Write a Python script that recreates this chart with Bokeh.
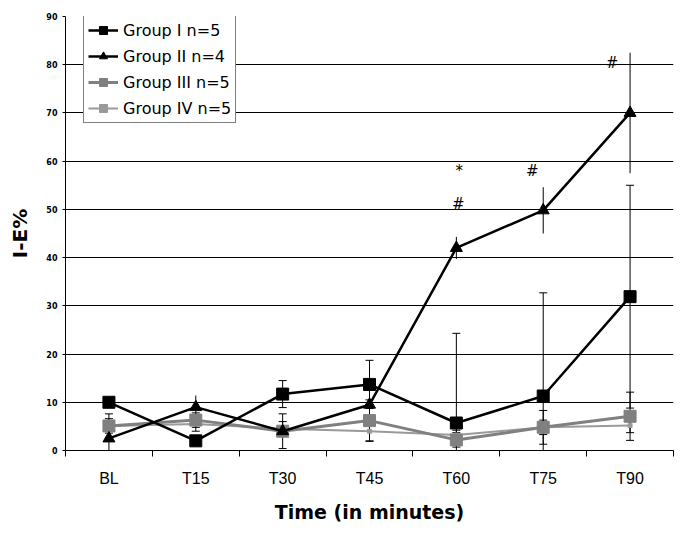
from bokeh.plotting import figure
from bokeh.models import (ColumnDataSource, Range1d, FixedTicker, Whisker, TeeHead,
                          Legend, LegendItem)
from bokeh.core.properties import value
from bokeh.embed import file_html
from bokeh.resources import INLINE

# ---- data ----
categories = ["BL", "T15", "T30", "T45", "T60", "T75", "T90"]
g1 = [10.0, 2.0, 11.7, 13.7, 5.7, 11.3, 31.9]
g1_err = [1.0, 1.0, 2.8, 5.0, 18.6, 21.4, 23.1]
g2 = [2.5, 9.0, 4.0, 9.5, 42.0, 49.8, 70.0]
g2_err = [2.5, 2.4, 1.0, 1.5, 2.3, 4.8, 12.5]
g3 = [5.1, 6.3, 4.0, 6.2, 2.2, 4.8, 7.1]
g3_err = [2.5, 1.5, 3.6, 4.3, 1.5, 3.5, 5.0]
g4 = [5.1, 5.5, 4.5, 4.0, 3.2, 4.8, 5.2]
g4_err = [1.5, 1.5, 1.5, 2.0, 1.0, 1.5, 1.5]
y_ticks = [0, 10, 20, 30, 40, 50, 60, 70, 80, 90]
labels = ["Group I n=5", "Group II n=4", "Group III n=5", "Group IV n=5"]
ann_text = ["*", "#", "#", "#"]
ann_cat = ["T60", "T60", "T75", "T90"]
ann_y = [57.9, 51.2, 58.0, 80.3]
ann_dx = [3, 2, -11, -18]

xs = list(range(len(categories)))

def src(vals, errs):
    return ColumnDataSource(dict(
        x=xs, y=vals,
        upper=[v + e for v, e in zip(vals, errs)],
        lower=[max(v - e, 0) for v, e in zip(vals, errs)],
    ))

s1, s2, s3, s4 = src(g1, g1_err), src(g2, g2_err), src(g3, g3_err), src(g4, g4_err)

p = figure(width=677, height=527, output_backend="svg", toolbar_location=None,
           x_range=Range1d(-0.5, len(categories) - 0.5), y_range=Range1d(0, 90),
           min_border_left=65, min_border_right=4, min_border_top=16, min_border_bottom=77)
p.outline_line_color = None
p.background_fill_color = "white"

# error bars
for s, head in [(s1, True), (s2, False), (s3, True), (s4, True)]:
    w = Whisker(base="x", upper="upper", lower="lower", source=s,
                line_color="black", line_width=1,
                upper_head=TeeHead(size=8, line_color="black", line_width=1) if head else None,
                lower_head=TeeHead(size=8, line_color="black", line_width=1) if head else None)
    p.add_layout(w)

l4 = p.line("x", "y", source=s4, line_color="#9a9a9a", line_width=2)
m4 = p.scatter("x", "y", source=s4, marker="square", size=4, color="#9a9a9a")
l3 = p.line("x", "y", source=s3, line_color="#808080", line_width=3)
m3 = p.scatter("x", "y", source=s3, marker="square", size=12, color="#808080")
l2 = p.line("x", "y", source=s2, line_color="black", line_width=2.5)
m2 = p.scatter("x", "y", source=s2, marker="triangle", size=12, color="black")
l1 = p.line("x", "y", source=s1, line_color="black", line_width=2.5)
m1 = p.scatter("x", "y", source=s1, marker="square", size=12, color="black")

# annotations
ann_src = ColumnDataSource(dict(x=[categories.index(c) for c in ann_cat], y=ann_y,
                                text=ann_text, dx=ann_dx))
p.text(x="x", y="y", text="text", x_offset="dx", source=ann_src,
       text_align="center", text_baseline="middle", text_font_size="15px",
       text_font=value("DejaVu Sans"), text_color="black")

# axes
p.xaxis.ticker = FixedTicker(ticks=xs, minor_ticks=[i - 0.5 for i in range(len(categories) + 1)])
p.xaxis.major_label_overrides = {i: c for i, c in enumerate(categories)}
p.xaxis.major_tick_line_color = None
p.xaxis.major_tick_out = 0
p.xaxis.minor_tick_out = 6
p.xaxis.minor_tick_in = 0
p.xaxis.minor_tick_line_color = "black"
p.xaxis.major_label_standoff = 13
p.xaxis.major_label_text_font = "Liberation Sans"
p.xaxis.major_label_text_font_size = "16px"
p.xaxis.major_label_text_color = "black"
p.xaxis.axis_label = "Time (in minutes)"
p.xaxis.axis_label_text_font = "DejaVu Sans"
p.xaxis.axis_label_text_font_style = "bold"
p.xaxis.axis_label_text_font_size = "19px"
p.xaxis.axis_label_text_color = "black"
p.xaxis.axis_label_standoff = 11
p.xaxis.axis_line_color = "black"

p.yaxis.ticker = FixedTicker(ticks=y_ticks)
p.yaxis.minor_tick_line_color = None
p.yaxis.major_tick_out = 3
p.yaxis.major_tick_in = 0
p.yaxis.major_tick_line_color = "black"
p.yaxis.major_label_standoff = 5
p.yaxis.major_label_text_font = "DejaVu Sans"
p.yaxis.major_label_text_font_style = "bold"
p.yaxis.major_label_text_font_size = "8px"
p.yaxis.major_label_text_color = "black"
p.yaxis.axis_label = "I-E%"
p.yaxis.axis_label_text_font = "DejaVu Sans"
p.yaxis.axis_label_text_font_style = "bold"
p.yaxis.axis_label_text_font_size = "20px"
p.yaxis.axis_label_text_color = "black"
p.yaxis.axis_label_standoff = 11
p.yaxis.axis_line_color = "black"

p.xgrid.grid_line_color = None
p.ygrid.ticker = FixedTicker(ticks=y_ticks)
p.ygrid.grid_line_color = "black"
p.ygrid.grid_line_width = 1

legend = Legend(items=[
    LegendItem(label=labels[0], renderers=[l1, m1]),
    LegendItem(label=labels[1], renderers=[l2, m2]),
    LegendItem(label=labels[2], renderers=[l3, m3]),
    LegendItem(label=labels[3], renderers=[l4, m4]),
], location=(18, 327))
legend.border_line_color = "black"
legend.border_line_width = 1
legend.background_fill_alpha = 1
legend.label_text_font = "DejaVu Sans"
legend.label_text_font_size = "16px"
legend.label_text_color = "black"
legend.glyph_width = 30
legend.glyph_height = 20
legend.label_height = 20
legend.spacing = 6
legend.padding = 4
legend.label_standoff = 5
legend.margin = 0
p.add_layout(legend)

open("out.html", "w").write(file_html(p, INLINE))
